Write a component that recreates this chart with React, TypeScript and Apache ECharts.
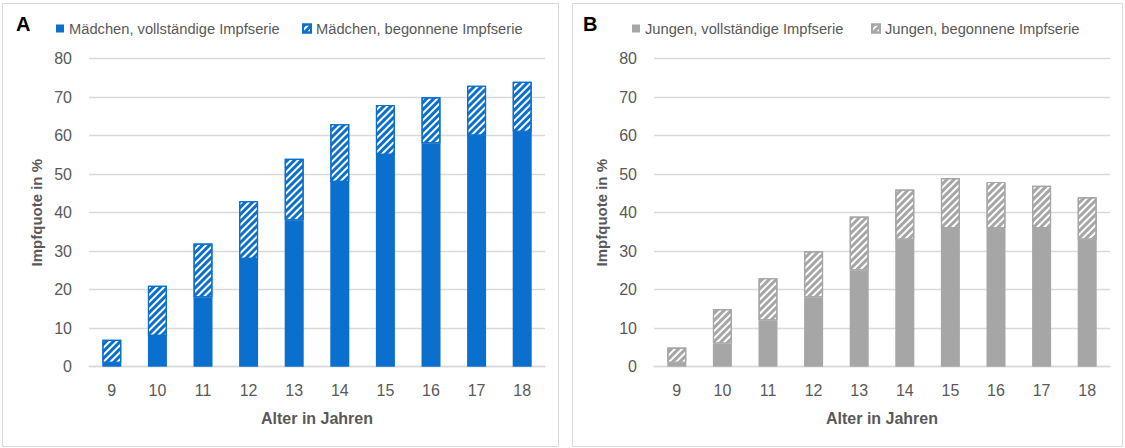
import React, { useEffect, useRef } from "react";
import * as echarts from "echarts";

const ages = ["9", "10", "11", "12", "13", "14", "15", "16", "17", "18"];
const girlsComplete = [1, 8, 18, 28, 38, 48, 55, 58, 60, 61];
const girlsStarted = [6, 13, 14, 15, 16, 15, 13, 12, 13, 13];
const boysComplete = [1, 6, 12, 18, 25, 33, 36, 36, 36, 33];
const boysStarted = [4, 9, 11, 12, 14, 13, 13, 12, 11, 11];
const yTicks = { min: 0, max: 80, interval: 10 };
const legendNames = [
  "Mädchen, vollständige Impfserie",
  "Mädchen, begonnene Impfserie",
  "Jungen, vollständige Impfserie",
  "Jungen, begonnene Impfserie",
];

const BLUE = "#0a6fcd";
const GRAY = "#a6a6a6";
const TXT = "#595959";
const FONT = "'Liberation Sans', Arial, sans-serif";

function stripe(color: string) {
  return {
    symbol: "rect",
    symbolSize: 1,
    dashArrayX: [1, 0],
    dashArrayY: [2.4, 2],
    rotation: -Math.PI / 4,
    color,
  };
}

export default function App() {
  const ref = useRef<HTMLDivElement>(null);
  useEffect(() => {
    if (!ref.current) return;
    const chart = echarts.init(ref.current, undefined, { renderer: "svg" });
    const grids = [
      { left: 89, right: 580, top: 58.7, bottom: 81.3 },
      { left: 654, right: 15, top: 58.7, bottom: 81.3 },
    ];
    const xAxis = [0, 1].map((i) => ({
      type: "category",
      gridIndex: i,
      data: ages,
      axisTick: { show: false },
      axisLine: { lineStyle: { color: "#d9d9d9", width: 1.3 } },
      axisLabel: { color: TXT, fontSize: 16, fontFamily: FONT, margin: 16 },
      name: "Alter in Jahren",
      nameLocation: "middle",
      nameGap: 44,
      nameTextStyle: { color: TXT, fontSize: 16, fontWeight: "bold", fontFamily: FONT },
    }));
    const yAxis = [0, 1].map((i) => ({
      type: "value",
      gridIndex: i,
      ...yTicks,
      axisLine: { show: false },
      axisTick: { show: false },
      splitLine: { lineStyle: { color: "#d9d9d9", width: 1.3 } },
      axisLabel: { color: TXT, fontSize: 16, fontFamily: FONT, margin: 17 },
      name: "Impfquote in %",
      nameLocation: "middle",
      nameGap: 45,
      nameRotate: 90,
      nameTextStyle: { color: TXT, fontSize: 15, fontWeight: "bold", fontFamily: FONT },
    }));
    const mk = (
      name: string,
      data: number[],
      idx: number,
      color: string,
      hatched: boolean
    ) => ({
      type: "bar",
      name,
      xAxisIndex: idx,
      yAxisIndex: idx,
      stack: "s" + idx,
      barWidth: 19,
      data,
      itemStyle: hatched
        ? { color: "#ffffff", borderColor: color, borderWidth: 1.2, decal: stripe(color) }
        : { color },
    });
    const legendLefts = [51, 297, 627, 866];
    const legend = legendNames.map((n, i) => ({
      left: legendLefts[i],
      top: 16,
      itemWidth: 8,
      itemHeight: 8,
      icon: "rect",
      textStyle: { color: TXT, fontSize: 14.7, fontFamily: FONT },
      data: [n],
    }));
    chart.setOption({
      animation: false,
      backgroundColor: "#ffffff",
      grid: grids,
      xAxis,
      yAxis,
      legend,
      graphic: [
        {
          type: "rect",
          shape: { x: 2.5, y: 3.5, width: 556, height: 443 },
          style: { fill: "none", stroke: "#d9d9d9", lineWidth: 1 },
          silent: true,
        },
        {
          type: "rect",
          shape: { x: 572.5, y: 3.5, width: 550, height: 443 },
          style: { fill: "none", stroke: "#d9d9d9", lineWidth: 1 },
          silent: true,
        },
        {
          type: "text",
          left: 16,
          top: 14,
          style: { text: "A", fontSize: 20, fontWeight: "bold", fill: "#000000", fontFamily: FONT },
        },
        {
          type: "text",
          left: 583,
          top: 14,
          style: { text: "B", fontSize: 20, fontWeight: "bold", fill: "#000000", fontFamily: FONT },
        },
      ],
      series: [
        mk(legendNames[0], girlsComplete, 0, BLUE, false),
        mk(legendNames[1], girlsStarted, 0, BLUE, true),
        mk(legendNames[2], boysComplete, 1, GRAY, false),
        mk(legendNames[3], boysStarted, 1, GRAY, true),
      ],
    });
    return () => chart.dispose();
  }, []);
  return (
    <div
      ref={ref}
      style={{ position: "fixed", left: 0, top: 0, width: 1125, height: 448, background: "#fff" }}
    />
  );
}
